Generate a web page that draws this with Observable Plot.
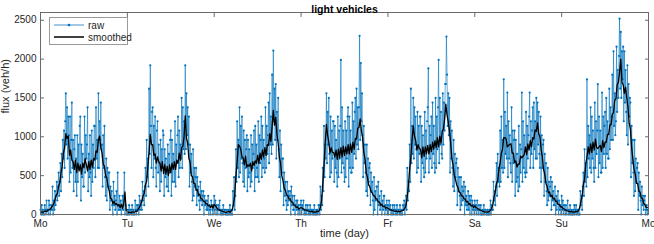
<!DOCTYPE html>
<html><head><meta charset="utf-8">
<script src="https://cdn.jsdelivr.net/npm/d3@7"></script>
<script src="https://cdn.jsdelivr.net/npm/@observablehq/plot@0.6"></script>
<style>
body{margin:0;background:#fff;font-family:"Liberation Sans",Arial,sans-serif;}
#wrap{position:relative;width:654px;height:244px;}
#legend{position:absolute;left:49px;top:17px;width:77px;height:26px;border:1px solid #9a9a9a;background:#fff;font-size:10px;color:#262626;}
.row{position:absolute;left:3px;height:12px;display:flex;align-items:center;}
</style></head>
<body><div id="wrap"><div id="legend">
<div class="row" style="top:1px"><svg width="32" height="12"><line x1="1" x2="31" y1="6" y2="6" stroke="#0072BD" stroke-opacity="0.5" stroke-width="1.5"/><circle cx="16" cy="6" r="1.3" fill="#0072BD"/></svg><span style="margin-left:3px">raw</span></div>
<div class="row" style="top:13px"><svg width="32" height="12"><line x1="1" x2="31" y1="6" y2="6" stroke="#000" stroke-width="1.5"/></svg><span style="margin-left:3px">smoothed</span></div>
</div></div>
<script>
const dayLabels = ["Mo","Tu","We","Th","Fr","Sa","Su","Mo"];
const yTicks = [0, 500, 1000, 1500, 2000, 2500];
const title = "light vehicles";
const xLabel = "time (day)";
const yLabel = "flux (veh/h)";

// raw flux, 10-minute samples (6 per hour), one array per day
const rawMo = [60,0,120,0,60,0, 0,120,60,0,180,60, 60,0,180,120,0,60, 120,60,360,0,180,60, 300,120,240,420,180,360, 540,240,420,660,300,780, 480,960,720,1080,600,1200, 1560,900,1380,720,1260,1020, 420,1260,540,960,1440,600, 960,300,840,1020,420,720, 240,1020,420,900,600,1140, 1260,180,900,480,780,360, 360,1260,540,1020,720,900, 1380,300,780,480,1020,540, 240,1080,420,900,600,1140, 1140,480,1380,720,960,600, 1560,600,1200,960,1440,840, 900,360,1020,600,1140,480, 240,720,180,600,360,540, 540,60,360,180,300,120, 0,420,120,240,60,180, 300,0,540,120,60,240, 60,180,0,120,240,60, 240,540,0,120,60,0];
const rawTu = [0,60,0,120,0,60, 60,0,120,0,60,0, 0,180,60,0,120,60, 120,0,240,60,180,120, 60,420,180,300,120,360, 600,240,960,480,720,360, 1620,780,1920,1140,600,1320, 1380,480,1140,720,1260,600, 360,1080,1200,540,900,660, 300,960,420,840,600,1080, 1020,240,840,480,720,360, 360,900,300,780,540,960, 1080,240,960,420,780,600, 420,1200,360,900,660,1020, 1260,480,1080,600,900,720, 1500,600,1380,840,1200,780, 1920,840,1560,1020,1380,900, 1260,360,900,540,780,420, 180,840,240,600,360,480, 600,120,480,240,360,180, 60,420,180,300,120,240, 300,0,240,120,180,60, 180,60,240,0,120,60, 0,180,120,60,0,120];
const rawWe = [240,60,180,0,120,60, 0,120,60,180,0,60, 0,60,0,120,0,60, 60,0,0,60,0,0, 60,0,120,0,60,0, 0,300,120,480,60,240, 840,420,1200,600,960,480, 1380,540,1140,720,1260,660, 420,1080,360,960,600,840, 1020,300,960,480,840,540, 360,1020,420,900,600,780, 1080,300,1140,480,900,600, 480,1200,420,1020,660,960, 1260,480,1140,600,960,720, 540,1380,600,1140,780,1020, 1440,660,1560,900,1260,780, 1800,900,2110,1200,1620,960, 1680,720,1320,960,1500,840, 480,1080,300,900,540,720, 720,120,540,240,420,180, 60,420,120,300,180,240, 300,0,360,120,240,60, 60,240,0,120,180,60, 180,0,120,60,0,120];
const rawTh = [180,0,120,60,180,0, 60,0,120,0,60,120, 0,60,0,120,0,60, 60,0,60,0,120,0, 0,60,0,60,0,120, 120,0,360,60,240,120, 600,300,1140,480,900,720, 1560,660,1320,900,1500,780, 480,1260,540,1080,720,1200, 1200,420,1140,600,960,540, 360,1260,480,1080,720,1140, 1990,540,1380,660,1080,600, 420,1200,480,1080,720,1260, 1380,360,1260,600,1080,540, 540,1440,600,1200,780,1320, 1500,720,1620,900,1380,840, 1380,2300,960,1950,1200,1560, 1020,480,1140,660,900,540, 300,900,240,720,420,600, 660,120,540,300,420,180, 0,480,60,300,180,360, 360,0,420,120,240,60, 120,300,0,180,60,240, 240,0,120,60,180,0];
const rawFr = [120,0,180,60,120,0, 60,0,120,0,60,120, 0,60,0,120,0,60, 60,0,120,0,60,0, 0,120,60,180,0,120, 240,60,600,180,420,300, 900,420,1620,660,1140,780, 1500,720,1380,900,1260,840, 540,1320,600,1140,780,1260, 1260,420,1140,660,1020,600, 480,1320,540,1080,720,1200, 1380,1880,540,1140,720,1020, 1260,600,1440,780,1140,660, 540,1500,600,1260,840,1380, 1990,660,1500,900,1320,780, 720,1560,900,1440,1080,1680, 1680,2290,1800,1140,1560,1020, 1500,540,1200,720,1080,600, 360,960,300,780,480,660, 720,120,600,300,480,240, 60,480,120,360,180,300, 420,0,360,120,240,60, 120,300,60,240,0,180, 240,0,180,60,120,0];
const rawSa = [180,60,120,0,180,60, 0,120,60,0,120,0, 0,60,0,120,0,60, 60,0,0,60,0,0, 60,0,180,0,120,60, 60,420,180,300,120,360, 660,240,780,420,600,360, 1080,420,1260,600,960,540, 1740,600,1320,780,1140,720, 1570,480,1200,720,1020,660, 540,1380,420,1080,660,960, 1080,240,960,420,780,480, 300,1140,360,900,540,840, 1570,420,1200,600,1020,540, 480,1320,540,1140,720,1020, 1260,1570,600,1200,780,1080, 1380,600,1440,840,1200,720, 1500,720,1440,900,1320,780, 600,1260,420,1020,600,900, 960,240,780,420,660,300, 120,600,180,420,240,360, 480,60,420,180,300,120, 120,360,0,240,60,180, 300,0,180,60,120,0];
const rawSu = [240,60,180,0,120,60, 0,120,0,60,180,0, 60,0,120,0,60,0, 0,60,0,120,0,60, 120,0,60,0,60,0, 0,300,120,240,60,360, 540,240,840,420,660,360, 1740,480,1140,720,1020,600, 1380,540,1260,720,1080,600, 420,1440,600,1200,780,1080, 1680,480,1260,660,1080,540, 540,1570,600,1260,780,1140, 1320,600,1500,780,1200,720, 720,1620,840,1380,960,1260, 1800,960,2100,1140,1560,1020, 1200,2160,1320,1860,1500,2040, 2520,1620,2350,1500,2100,1740, 2160,1200,2100,1440,1860,1320, 1020,1920,900,1680,1260,1500, 1440,480,1140,660,960,540, 240,960,300,720,420,600, 660,60,540,240,420,180, 0,360,120,240,60,180, 240,0,60,120,0,60];

// smoothed flux, 20-minute samples (3 per hour)
const smMo = [30,35,25, 40,45,35, 55,60,70, 90,110,140, 190,250,270, 360,410,540, 620,790,860, 1040,980,1010, 760,830,700, 680,580,700, 540,660,560, 640,520,660, 600,720,640, 560,680,580, 700,610,720, 700,820,800, 960,1010,860, 790,650,620, 500,470,360, 300,210,200, 140,170,130, 140,110,130, 90,130,80, 140,290,60];
const smTu = [40,25,30, 20,35,30, 30,45,40, 70,90,130, 170,240,270, 380,430,620, 800,1030,900, 900,760,780, 660,740,680, 660,560,680, 530,640,520, 620,500,640, 540,660,580, 680,580,700, 660,790,700, 860,880,1000, 1270,980,920, 720,680,500, 490,400,400, 310,320,250, 260,200,200, 170,170,140, 140,110,120, 90,120,80];
const smWe = [130,110,90, 70,60,50, 45,40,35, 30,25,35, 40,30,45, 60,130,250, 500,680,900, 880,840,740, 730,640,750, 610,640,620, 660,560,680, 630,690,660, 760,660,790, 710,830,740, 860,760,900, 890,1040,940, 1140,1340,1150, 1250,1030,920, 740,660,500, 440,340,310, 250,240,200, 200,160,160, 120,120,90, 100,70,80];
const smTh = [90,80,70, 60,55,50, 45,40,35, 40,30,35, 30,40,35, 50,90,180, 400,630,920, 1160,1020,930, 790,860,800, 800,740,830, 710,840,730, 860,740,880, 760,870,780, 900,780,910, 800,930,840, 980,970,1110, 1120,1230,1080, 990,800,720, 540,480,380, 360,290,280, 240,240,200, 200,160,160, 120,130,100, 110,80,90];
const smFr = [80,70,60, 55,50,45, 40,45,35, 40,35,45, 50,60,80, 120,230,370, 580,740,960, 1140,1010,950, 830,900,850, 840,730,870, 750,870,780, 890,780,900, 810,930,840, 950,860,990, 870,1010,920, 1070,1100,1230, 1420,1280,1200, 1080,920,720, 640,500,450, 380,350,290, 280,240,240, 200,200,160, 170,130,140, 110,120,90];
const smSa = [110,90,80, 70,60,55, 45,40,35, 30,35,30, 40,55,80, 130,230,290, 400,440,580, 660,790,840, 990,990,970, 870,890,900, 910,790,790, 670,690,610, 650,650,750, 730,750,770, 870,770,910, 830,950,870, 990,970,1090, 1070,1180,1040, 1000,840,740, 580,520,400, 360,280,290, 230,250,200, 210,170,170, 130,130,100];
const smSu = [100,80,70, 60,50,45, 40,35,40, 30,35,30, 40,35,50, 90,170,240, 380,460,650, 740,870,780, 910,800,930, 830,970,860, 850,870,890, 810,950,860, 930,930,1030, 1030,1150,1160, 1290,1310,1470, 1490,1670,1700, 1830,2000,1700, 1670,1560,1640, 1500,1380,1180, 1100,860,720, 580,520,400, 400,300,290, 210,210,140, 130,90,90];

const rawDays = [rawMo, rawTu, rawWe, rawTh, rawFr, rawSa, rawSu];
const smDays = [smMo, smTu, smWe, smTh, smFr, smSa, smSu];
const toRows = (days) => days.flatMap((arr, d) => arr.map((v, i) => ({t: d + i / arr.length, v})));
const raw = toRows(rawDays);
const smooth = toRows(smDays);

const axisColor = "#6a6a6a";
const textColor = "#262626";
const font = "Liberation Sans, Arial, sans-serif";

const chart = Plot.plot({
  width: 654, height: 244,
  marginLeft: 40, marginRight: 6, marginTop: 12, marginBottom: 30,
  style: {fontFamily: font, fontSize: "10px", color: textColor, background: "white"},
  x: {domain: [0, 7]},
  y: {domain: [0, 2600]},
  marks: [
    Plot.line(raw, {x: "t", y: "v", stroke: "#0072BD", strokeOpacity: 0.65, strokeWidth: 0.9}),
    Plot.dot(raw, {x: "t", y: "v", r: 1.1, fill: "#0072BD", stroke: "none"}),
    Plot.line(smooth, {x: "t", y: "v", stroke: "black", strokeWidth: 1.3}),
    Plot.frame({stroke: axisColor, strokeWidth: 1}),
    Plot.axisX({anchor: "bottom", ticks: d3.range(8), tickSize: -4, tickPadding: 9, tickFormat: i => dayLabels[i], label: null, stroke: axisColor, fill: textColor, fontSize: 10}),
    Plot.axisX({anchor: "top", ticks: d3.range(8), tickSize: -4, tickFormat: () => "", label: null, stroke: axisColor}),
    Plot.axisY({anchor: "left", ticks: yTicks, tickSize: -4, tickPadding: 8, tickFormat: d => String(d), label: null, stroke: axisColor, fill: textColor, fontSize: 10}),
    Plot.axisY({anchor: "right", ticks: yTicks, tickSize: -4, tickFormat: () => "", label: null, stroke: axisColor}),
    Plot.text([title], {text: d => d, frameAnchor: "top", dy: -7, fontWeight: "bold", fontSize: 10.5, fill: "black"}),
    Plot.text([xLabel], {text: d => d, frameAnchor: "bottom", dy: 22, fontSize: 11, fill: textColor}),
    Plot.text([yLabel], {text: d => d, frameAnchor: "left", dx: -35, rotate: -90, fontSize: 11, fill: textColor})
  ]
});
document.getElementById("wrap").prepend(chart);
chart.style.position = "absolute"; chart.style.left = "0"; chart.style.top = "0";
</script></body></html>
